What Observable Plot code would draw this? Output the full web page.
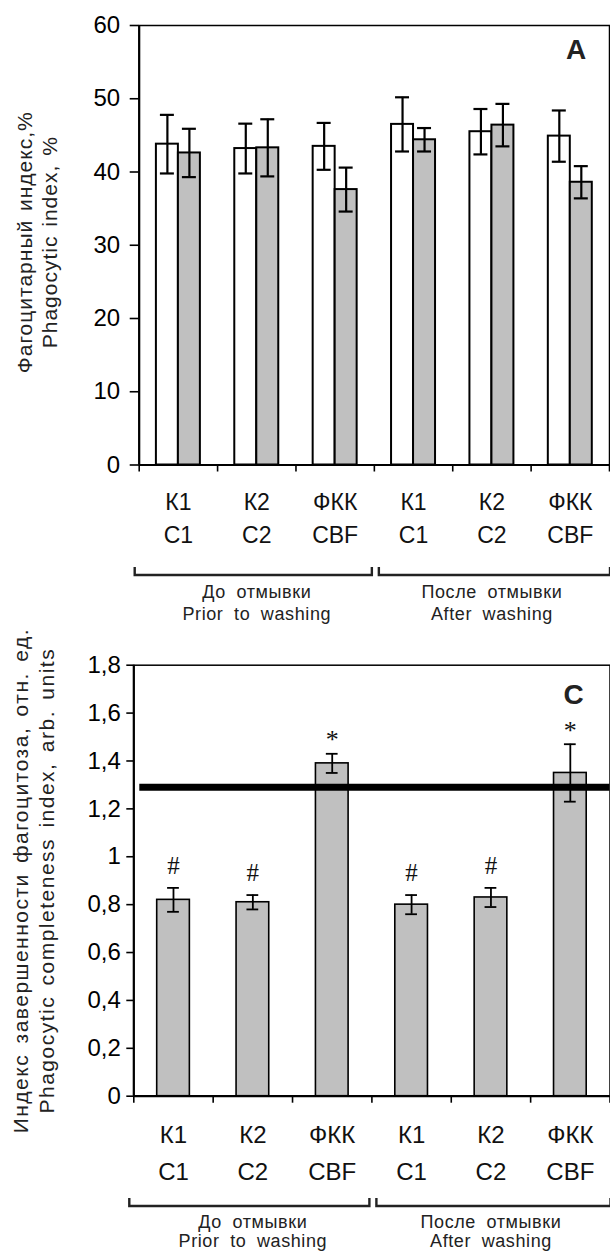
<!DOCTYPE html>
<html>
<head>
<meta charset="utf-8">
<script src="https://cdn.jsdelivr.net/npm/d3@7"></script>
<script src="https://cdn.jsdelivr.net/npm/@observablehq/plot@0.6"></script>
<style>
html, body { margin: 0; padding: 0; background: #fff; }
#chart { width: 610px; }
#chart svg { display: block; }
#chart g[aria-label^="y-axis"] line, #chart g[aria-label^="y-axis"] path { stroke-width: 1.6px; }
#chart g[aria-label^="x-axis"] line, #chart g[aria-label^="x-axis"] path { stroke-width: 1.6px; }
#chart g[aria-label^="y-axis"] text { font-size: 24px; }
</style>
</head>
<body>
<div id="chart"></div>
<script>
// ---------- data ----------
const categoriesRu = ["К1", "К2", "ФКК", "К1", "К2", "ФКК"];
const categoriesEn = ["C1", "C2", "CBF", "C1", "C2", "CBF"];
const groupLabelsRu = ["До отмывки", "После отмывки"];
const groupLabelsEn = ["Prior to washing", "After washing"];
const groupSpans = [[0, 3], [3, 6]];

// Panel A: phagocytic index, %
const phagoWhite = [43.8, 43.2, 43.5, 46.5, 45.5, 44.9];
const phagoWhiteErr = [4.0, 3.4, 3.2, 3.7, 3.1, 3.5];
const phagoGray = [42.6, 43.3, 37.6, 44.4, 46.4, 38.6];
const phagoGrayErr = [3.3, 3.9, 3.0, 1.6, 2.9, 2.2];
const ticksA = [0, 10, 20, 30, 40, 50, 60];
const tickLabelsA = ["0", "10", "20", "30", "40", "50", "60"];
const titleA = "Фагоцитарный индекс,%\nPhagocytic index, %";
const panelLetterA = "A";

// Panel C: phagocytic completeness index
const completeness = [0.82, 0.81, 1.39, 0.80, 0.83, 1.35];
const completenessErr = [0.05, 0.03, 0.04, 0.04, 0.04, 0.12];
const markersC = ["#", "#", "*", "#", "#", "*"];
const referenceC = 1.29;
const ticksC = [0, 0.2, 0.4, 0.6, 0.8, 1, 1.2, 1.4, 1.6, 1.8];
const tickLabelsC = ["0", "0,2", "0,4", "0,6", "0,8", "1", "1,2", "1,4", "1,6", "1,8"];
const titleC = "Индекс завершенности фагоцитоза, отн. ед.\nPhagocytic completeness index, arb. units";
const panelLetterC = "C";

// ---------- helpers ----------
const FONT = "'Liberation Sans', Arial, Helvetica, sans-serif";
const nCat = categoriesRu.length;
const idx = categoriesRu.map((_, i) => i);

function fmtFrom(ticks, labels) {
  return (d) => {
    const k = ticks.findIndex(t => Math.abs(t - d) < 1e-9);
    return k >= 0 ? labels[k] : "";
  };
}

function bracketMark(offset, tick) {
  return (index, scales, values, dims) => {
    const x = scales.x;
    const y0 = dims.height - dims.marginBottom + offset;
    const g = d3.create("svg:g");
    groupSpans.forEach(([a, b]) => {
      const l = x(a) + (a === 0 ? -4 : 5);
      const r = x(b) + (b === nCat ? 1 : -2);
      g.append("path")
        .attr("d", `M${l},${y0 - tick}V${y0}H${r}V${y0 - tick}`)
        .attr("fill", "none")
        .attr("stroke", "#222")
        .attr("stroke-width", 2.4);
    });
    return g.node();
  };
}

function xLabelMarks(o) {
  return [
    Plot.text(idx, {x: i => i + 0.5, text: i => categoriesRu[i], frameAnchor: "bottom",
      textAnchor: "middle", lineAnchor: "middle", dy: o.dyRu, fontSize: o.catSize, fill: "#111"}),
    Plot.text(idx, {x: i => i + 0.5, text: i => categoriesEn[i], frameAnchor: "bottom",
      textAnchor: "middle", lineAnchor: "middle", dy: o.dyEn, fontSize: o.catSize, fill: "#111"}),
    Plot.text(groupSpans, {x: s => (s[0] + s[1]) / 2, text: (s, i) => groupLabelsRu[i], frameAnchor: "bottom",
      textAnchor: "middle", lineAnchor: "middle", dy: o.dyG1, fontSize: 18, fill: "#222"}),
    Plot.text(groupSpans, {x: s => (s[0] + s[1]) / 2, text: (s, i) => groupLabelsEn[i], frameAnchor: "bottom",
      textAnchor: "middle", lineAnchor: "middle", dy: o.dyG2, fontSize: 18, fill: "#222"}),
    bracketMark(o.bracket, 8)
  ];
}

// spacing tweaks for texts (style only)
function spaceText(svg, match, letter, word) {
  svg.querySelectorAll("text").forEach(t => {
    if (match.some(m => t.textContent.includes(m))) {
      t.style.letterSpacing = letter + "px";
      t.style.wordSpacing = word + "px";
    }
  });
}

// ---------- Panel A ----------
const recA = idx.flatMap(i => [
  {i, s: "w", v: phagoWhite[i], e: phagoWhiteErr[i]},
  {i, s: "g", v: phagoGray[i], e: phagoGrayErr[i]}
]);
const W = recA.filter(d => d.s === "w");
const G = recA.filter(d => d.s === "g");

const chartA = Plot.plot({
  width: 610, height: 630,
  marginTop: 25, marginBottom: 165.5, marginLeft: 138.7, marginRight: 1,
  style: {fontFamily: FONT, fontSize: "23px", background: "white", color: "black", overflow: "visible"},
  x: {domain: [0, nCat], ticks: 6, tickSize: 7, tickFormat: () => "", label: null},
  y: {domain: [0, 60], ticks: ticksA, tickFormat: fmtFrom(ticksA, tickLabelsA), tickSize: 9, tickPadding: 10, label: null},
  marks: [
    Plot.rectY(W, {x1: d => d.i, x2: d => d.i + 1, y1: 0, y2: d => d.v, insetLeft: 17.2, insetRight: 39.2,
      fill: "white", stroke: "black", strokeWidth: 2}),
    Plot.rectY(G, {x1: d => d.i, x2: d => d.i + 1, y1: 0, y2: d => d.v, insetLeft: 39.2, insetRight: 17.2,
      fill: "#c0c0c0", stroke: "black", strokeWidth: 2}),
    Plot.ruleX(W, {x: d => d.i + 0.5, y1: d => d.v - d.e, y2: d => d.v + d.e, dx: -11, strokeWidth: 2.2}),
    Plot.ruleX(G, {x: d => d.i + 0.5, y1: d => d.v - d.e, y2: d => d.v + d.e, dx: 11, strokeWidth: 2.2}),
    Plot.ruleY(W, {x1: d => d.i, x2: d => d.i + 1, y: d => d.v + d.e, insetLeft: 21.2, insetRight: 43.2, strokeWidth: 2.2}),
    Plot.ruleY(W, {x1: d => d.i, x2: d => d.i + 1, y: d => d.v - d.e, insetLeft: 21.2, insetRight: 43.2, strokeWidth: 2.2}),
    Plot.ruleY(G, {x1: d => d.i, x2: d => d.i + 1, y: d => d.v + d.e, insetLeft: 43.2, insetRight: 21.2, strokeWidth: 2.2}),
    Plot.ruleY(G, {x1: d => d.i, x2: d => d.i + 1, y: d => d.v - d.e, insetLeft: 43.2, insetRight: 21.2, strokeWidth: 2.2}),
    Plot.frame({strokeWidth: 1.5}),
    Plot.ruleX([0], {strokeWidth: 2.2}),
    Plot.ruleY([0], {strokeWidth: 2.2}),
    Plot.text([panelLetterA], {frameAnchor: "top-right", textAnchor: "middle", lineAnchor: "middle",
      dx: -33.5, dy: 24.5, fontWeight: "bold", fontSize: 28, fill: "#222"}),
    Plot.text([titleA], {frameAnchor: "left", rotate: -90, textAnchor: "middle", lineAnchor: "middle",
      dx: -102.7, dy: -3, lineHeight: 1.2, fontSize: 21, fill: "#222"}),
    ...xLabelMarks({dyRu: 38, dyEn: 70.5, dyG1: 127, dyG2: 149, bracket: 110.5, catSize: 23})
  ]
});

// ---------- Panel C ----------
const recC = idx.map(i => ({i, v: completeness[i], e: completenessErr[i], m: markersC[i]}));

const chartC = Plot.plot({
  width: 610, height: 626,
  marginTop: 34.7, marginBottom: 160.3, marginLeft: 133.3, marginRight: 0.5,
  style: {fontFamily: FONT, fontSize: "23px", background: "white", color: "black", overflow: "visible"},
  x: {domain: [0, nCat], ticks: 6, tickSize: 7, tickFormat: () => "", label: null},
  y: {domain: [0, 1.8], ticks: ticksC, tickFormat: fmtFrom(ticksC, tickLabelsC), tickSize: 7, tickPadding: 6, label: null},
  marks: [
    Plot.rectY(recC, {x1: d => d.i, x2: d => d.i + 1, y1: 0, y2: d => d.v, insetLeft: 23.4, insetRight: 23.3,
      fill: "#c0c0c0", stroke: "black", strokeWidth: 1.6}),
    Plot.ruleY([referenceC], {insetLeft: 6, strokeWidth: 7, stroke: "black"}),
    Plot.ruleX(recC, {x: d => d.i + 0.5, y1: d => d.v - d.e, y2: d => d.v + d.e, strokeWidth: 1.8}),
    Plot.ruleY(recC, {x1: d => d.i, x2: d => d.i + 1, y: d => d.v + d.e, insetLeft: 33.8, insetRight: 33.8, strokeWidth: 1.8}),
    Plot.ruleY(recC, {x1: d => d.i, x2: d => d.i + 1, y: d => d.v - d.e, insetLeft: 33.8, insetRight: 33.8, strokeWidth: 1.8}),
    Plot.text(recC.filter(d => d.m === "#"), {x: d => d.i + 0.5, y: d => d.v + d.e, text: d => d.m, dy: -22,
      fontFamily: "'Liberation Serif', 'Times New Roman', serif", fontSize: 25, fill: "#111"}),
    Plot.text(recC.filter(d => d.m === "*"), {x: d => d.i + 0.5, y: d => d.v + d.e, text: d => d.m, dy: -14,
      fontFamily: "'Liberation Serif', 'Times New Roman', serif", fontSize: 26, fill: "#111"}),
    Plot.frame({strokeWidth: 1.5}),
    Plot.ruleX([0], {strokeWidth: 2.2}),
    Plot.ruleY([0], {strokeWidth: 2.2}),
    Plot.text([panelLetterC], {frameAnchor: "top-right", textAnchor: "middle", lineAnchor: "middle",
      dx: -36.5, dy: 30.3, fontWeight: "bold", fontSize: 28, fill: "#222"}),
    Plot.text([titleC], {frameAnchor: "left", rotate: -90, textAnchor: "middle", lineAnchor: "middle",
      dx: -101.5, dy: 0, lineHeight: 1.25, fontSize: 21, fill: "#222"}),
    ...xLabelMarks({dyRu: 39.3, dyEn: 76, dyG1: 125.8, dyG2: 145.3, bracket: 110.3, catSize: 24})
  ]
});

spaceText(chartA, ["Phagocytic"], 1.0, 2);
spaceText(chartC, ["Phagocytic"], 1.5, 3);
[chartA, chartC].forEach(c => spaceText(c, ["отмывки", "washing"], 0.6, 5));

const root = document.getElementById("chart");
root.appendChild(chartA);
root.appendChild(chartC);
</script>
</body>
</html>
